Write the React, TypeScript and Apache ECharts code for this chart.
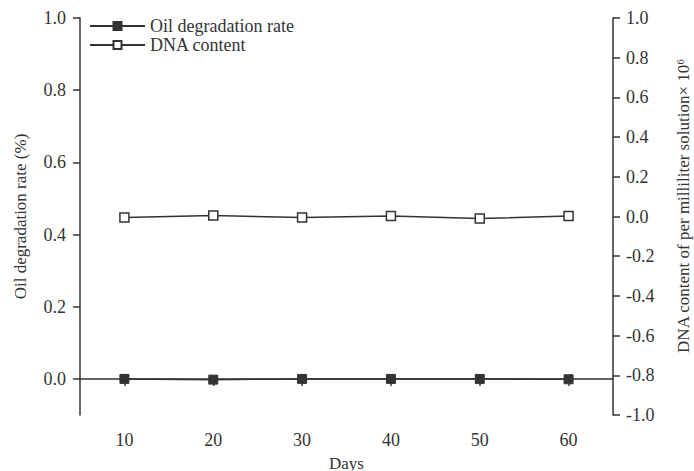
import React, { useEffect, useRef } from "react";
import * as echarts from "echarts";

const days = [10, 20, 30, 40, 50, 60];
const oilRate = [0.0, -0.002, 0.0, 0.0, 0.0, -0.001];
const dnaContent = [-0.005, 0.005, -0.005, 0.002, -0.01, 0.002];
const leftTicks = [0, 0.2, 0.4, 0.6, 0.8, 1.0];
const rightTicks = [-1.0, -0.8, -0.6, -0.4, -0.2, 0.0, 0.2, 0.4, 0.6, 0.8, 1.0];
const xTicks = [10, 20, 30, 40, 50, 60];

const FONT = "Liberation Serif";
const INK = "#333";

export default function App() {
  const ref = useRef<HTMLDivElement>(null);
  useEffect(() => {
    document.body.style.margin = "0";
    const chart = echarts.init(ref.current!, null, { renderer: "svg" });
    const fmt = (v: number) => (Math.round(v * 10) / 10).toFixed(1);
    const axisCommon = {
      axisLine: { show: true, lineStyle: { color: INK, width: 1.5 } },
      axisTick: { show: true, inside: false, length: 7, lineStyle: { color: INK, width: 1.5 } },
      splitLine: { show: false },
      axisLabel: { color: INK, fontFamily: FONT, fontSize: 18 },
      nameTextStyle: { color: INK, fontFamily: FONT, fontSize: 17 },
    };
    chart.setOption({
      animation: false,
      backgroundColor: "#fff",
      grid: { left: 80, right: 81, top: 18, bottom: 56, containLabel: false, outerBoundsMode: "none" },
      legend: {
        orient: "vertical",
        left: 84,
        top: 12,
        itemWidth: 55,
        itemHeight: 10,
        itemGap: 1,
        textStyle: { color: INK, fontFamily: FONT, fontSize: 18 },
        data: ["Oil degradation rate", "DNA content"],
      },
      xAxis: {
        type: "value",
        min: 5,
        max: 65,
        name: "Days",
        nameLocation: "middle",
        nameGap: 40,
        ...axisCommon,
        axisTick: { ...axisCommon.axisTick, customValues: xTicks },
        axisLabel: { ...axisCommon.axisLabel, customValues: xTicks, margin: 16 },
      },
      yAxis: [
        {
          type: "value",
          position: "left",
          min: -0.1,
          max: 1.0,
          name: "Oil degradation rate (%)",
          nameLocation: "middle",
          nameRotate: 90,
          nameGap: 51,
          ...axisCommon,
          axisTick: { ...axisCommon.axisTick, customValues: leftTicks },
          axisLabel: { ...axisCommon.axisLabel, customValues: leftTicks, formatter: fmt, margin: 14 },
        },
        {
          type: "value",
          position: "right",
          min: -1.0,
          max: 1.0,
          name: "\u00a0\u00a0\u00a0\u00a0\u00a0DNA content of per milliliter solution× 10⁶",
          nameLocation: "middle",
          nameRotate: 90,
          nameGap: 62,
          ...axisCommon,
          axisTick: { ...axisCommon.axisTick, customValues: rightTicks },
          axisLabel: { ...axisCommon.axisLabel, customValues: rightTicks, formatter: fmt, margin: 13 },
        },
      ],
      series: [
        {
          name: "Oil degradation rate",
          type: "line",
          yAxisIndex: 0,
          data: days.map((d, i) => [d, oilRate[i]]),
          symbol: "rect",
          symbolSize: 9,
          lineStyle: { color: INK, width: 1.5 },
          itemStyle: { color: INK, borderColor: INK, borderWidth: 1 },
        },
        {
          name: "DNA content",
          type: "line",
          yAxisIndex: 1,
          data: days.map((d, i) => [d, dnaContent[i]]),
          symbol: "rect",
          symbolSize: 9,
          lineStyle: { color: INK, width: 1.5 },
          itemStyle: { color: "#fff", borderColor: INK, borderWidth: 1.5 },
        },
      ],
    });
    return () => chart.dispose();
  }, []);
  return <div ref={ref} style={{ width: 694, height: 471 }} />;
}
